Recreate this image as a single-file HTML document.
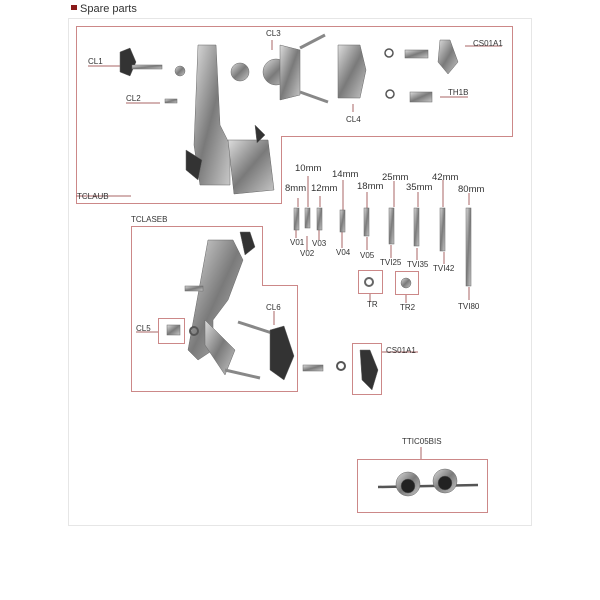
<!DOCTYPE html>
<html><head><meta charset="utf-8"><style>
html,body{margin:0;padding:0;background:#fff;width:600px;height:600px;overflow:hidden}
svg text{font-family:"Liberation Sans",sans-serif;fill:#333}
</style></head><body>
<svg width="600" height="600" viewBox="0 0 600 600" xmlns="http://www.w3.org/2000/svg">
<defs>
<linearGradient id="m" x1="0" y1="0" x2="1" y2="1"><stop offset="0" stop-color="#ddd"/><stop offset=".5" stop-color="#7a7a7a"/><stop offset="1" stop-color="#c8c8c8"/></linearGradient>
</defs>
<rect x="71" y="5" width="6" height="5" fill="#8a1a1a"/>
<text x="80" y="12" font-size="11" style="fill:#333">Spare parts</text>
<rect x="68.5" y="18.5" width="463" height="507" fill="none" stroke="#e6e6e6"/>
<g fill="none" stroke="#c88" stroke-width="1">
<polygon points="76.5,26.5 512.5,26.5 512.5,136.5 281.5,136.5 281.5,203.5 76.5,203.5"/>
<polygon points="131.5,226.5 262.5,226.5 262.5,285.5 297.5,285.5 297.5,391.5 131.5,391.5"/>
<rect x="158.5" y="318.5" width="26" height="25"/>
<rect x="358.5" y="270.5" width="24" height="23"/>
<rect x="395.5" y="271.5" width="23" height="23"/>
<rect x="352.5" y="343.5" width="29" height="51"/>
<rect x="357.5" y="459.5" width="130" height="53"/>
</g>
<g stroke="#a66" stroke-width="1">
<line x1="88" y1="66" x2="120" y2="66"/><line x1="126" y1="103" x2="160" y2="103"/>
<line x1="272" y1="40" x2="272" y2="50"/><line x1="353" y1="104" x2="353" y2="112"/>
<line x1="465" y1="46" x2="502" y2="46"/><line x1="440" y1="97" x2="468" y2="97"/>
<line x1="76" y1="196" x2="131" y2="196"/>
<line x1="298" y1="198" x2="298" y2="207"/><line x1="308" y1="176" x2="308" y2="207"/><line x1="320" y1="196" x2="320" y2="207"/>
<line x1="343" y1="180" x2="343" y2="210"/><line x1="367" y1="192" x2="367" y2="208"/><line x1="394" y1="181" x2="394" y2="207"/><line x1="418" y1="192" x2="418" y2="207"/><line x1="443" y1="180" x2="443" y2="207"/><line x1="469" y1="193" x2="469" y2="205"/>
<line x1="296" y1="230" x2="296" y2="238"/><line x1="307" y1="236" x2="307" y2="250"/><line x1="319" y1="230" x2="319" y2="240"/><line x1="342" y1="232" x2="342" y2="248"/><line x1="367" y1="237" x2="367" y2="250"/>
<line x1="391" y1="245" x2="391" y2="258"/><line x1="417" y1="248" x2="417" y2="260"/><line x1="444" y1="252" x2="444" y2="264"/><line x1="469" y1="287" x2="469" y2="300"/>
<line x1="370" y1="294" x2="370" y2="302"/><line x1="406" y1="295" x2="406" y2="303"/>
<line x1="274" y1="311" x2="274" y2="325"/><line x1="382" y1="352" x2="418" y2="352"/><line x1="136" y1="332" x2="158" y2="332"/>
<line x1="421" y1="447" x2="421" y2="459"/>
</g>
<g font-size="8">
<text x="88" y="64">CL1</text><text x="126" y="101">CL2</text><text x="266" y="36">CL3</text><text x="346" y="122">CL4</text>
<text x="473" y="46">CS01A1</text><text x="448" y="95">TH1B</text><text x="77" y="199">TCLAUB</text>
<text x="131" y="222">TCLASEB</text><text x="266" y="310">CL6</text><text x="136" y="331">CL5</text>
<text x="386" y="353">CS01A1</text><text x="402" y="444">TTIC05BIS</text>
<text x="290" y="245">V01</text><text x="300" y="256">V02</text><text x="312" y="246">V03</text><text x="336" y="255">V04</text><text x="360" y="258">V05</text>
<text x="380" y="265">TVI25</text><text x="407" y="267">TVI35</text><text x="433" y="271">TVI42</text><text x="458" y="309">TVI80</text>
<text x="367" y="307">TR</text><text x="400" y="310">TR2</text>
</g>
<g font-size="9.5">
<text x="285" y="191">8mm</text><text x="295" y="171">10mm</text><text x="311" y="191">12mm</text><text x="332" y="177">14mm</text>
<text x="357" y="189">18mm</text><text x="382" y="180">25mm</text><text x="406" y="190">35mm</text><text x="432" y="180">42mm</text><text x="458" y="192">80mm</text>
</g>
<g fill="url(#m)" stroke="#666" stroke-width=".5">
<path d="M120 52 l10 -4 l6 14 l-6 14 l-10 -4 z" fill="#333"/><rect x="132" y="65" width="30" height="4"/>
<circle cx="180" cy="71" r="5"/><rect x="165" y="99" width="12" height="4"/>
<path d="M198 45 l18 0 l4 80 l10 20 l0 40 l-30 0 l-6 -40 z"/>
<path d="M228 140 l40 0 l6 50 l-40 4 z"/><path d="M255 125 l10 10 l-8 8 z" fill="#333"/>
<path d="M186 150 l16 10 l-4 20 l-12 -10 z" fill="#333"/>
<ellipse cx="240" cy="72" rx="9" ry="9"/>
<circle cx="276" cy="72" r="13"/><path d="M280 45 l20 5 l0 45 l-20 5 z"/><line x1="300" y1="48" x2="325" y2="35" stroke="#888" stroke-width="3"/><line x1="300" y1="92" x2="328" y2="102" stroke="#888" stroke-width="3"/>
<path d="M338 45 l22 0 l6 25 l-6 28 l-22 0 l0 -25 z"/>
<circle cx="389" cy="53" r="4" fill="none" stroke="#555" stroke-width="1.5"/><circle cx="390" cy="94" r="4" fill="none" stroke="#555" stroke-width="1.5"/>
<rect x="405" y="50" width="23" height="8"/><path d="M440 40 l10 0 l8 22 l-10 12 l-10 -12 z"/>
<rect x="410" y="92" width="22" height="10"/>
<path d="M208 240 l25 0 l10 20 l-15 40 l-15 20 l0 30 l-15 10 l-10 -10 z"/><path d="M205 320 l30 30 l-10 25 l-20 -30 z"/>
<rect x="185" y="286" width="18" height="5"/>
<line x1="238" y1="322" x2="275" y2="334" stroke="#888" stroke-width="3"/><path d="M270 330 l14 -4 l10 30 l-10 24 l-14 -10 z" fill="#333"/>
<line x1="225" y1="370" x2="260" y2="378" stroke="#888" stroke-width="3"/>
<path d="M240 232 l10 0 l5 15 l-10 8 z" fill="#333"/>
<rect x="167" y="325" width="13" height="10"/><circle cx="194" cy="331" r="4" fill="none" stroke="#555" stroke-width="2"/>
<rect x="303" y="365" width="20" height="6"/><circle cx="341" cy="366" r="4" fill="none" stroke="#555" stroke-width="2"/>
<path d="M360 350 l10 0 l8 20 l-6 20 l-10 -10 z" fill="#333"/>
<circle cx="369" cy="282" r="4" fill="none" stroke="#666" stroke-width="2"/><circle cx="406" cy="283" r="5"/>
<rect x="294" y="208" width="5" height="22"/><rect x="305" y="208" width="5" height="20"/><rect x="317" y="208" width="5" height="22"/>
<rect x="340" y="210" width="5" height="22"/><rect x="364" y="208" width="5" height="28"/><rect x="389" y="208" width="5" height="36"/>
<rect x="414" y="208" width="5" height="38"/><rect x="440" y="208" width="5" height="43"/><rect x="466" y="208" width="5" height="78"/>
<line x1="378" y1="487" x2="478" y2="485" stroke="#555" stroke-width="2.5"/>
<circle cx="408" cy="484" r="12"/><circle cx="408" cy="486" r="7" fill="#222"/>
<circle cx="445" cy="481" r="12"/><circle cx="445" cy="483" r="7" fill="#222"/>
</g>
</svg>
</body></html>
